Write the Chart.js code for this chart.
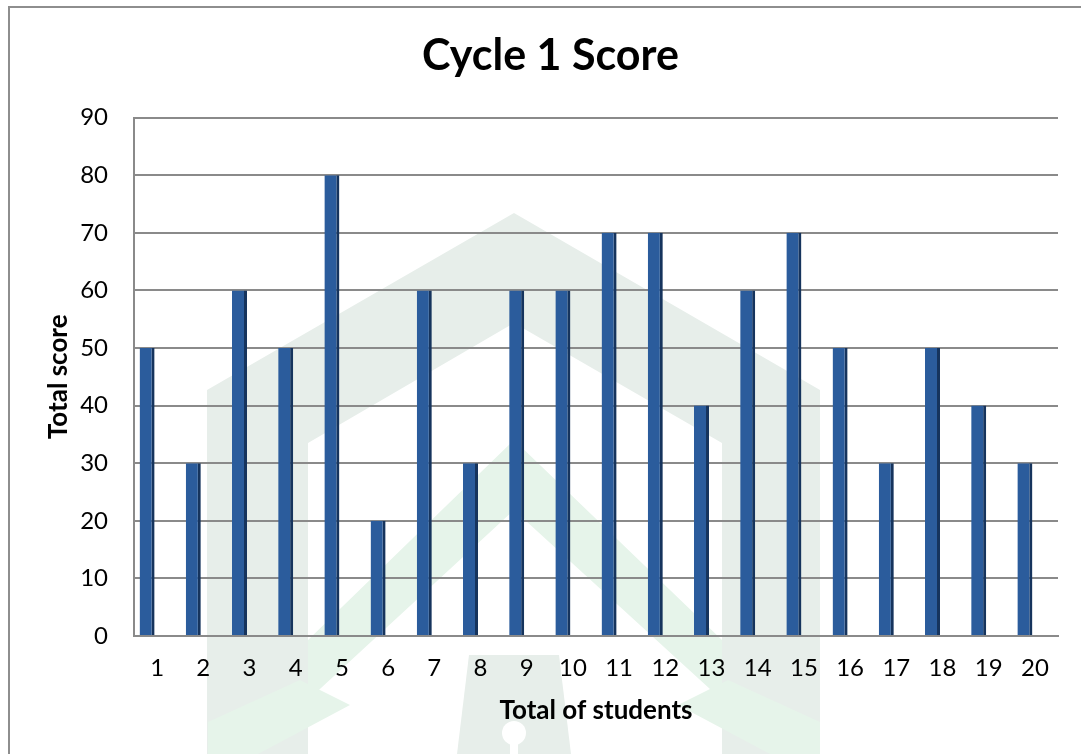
<!DOCTYPE html>
<html>
<head>
<meta charset="utf-8">
<title>Cycle 1 Score</title>
<script src="https://cdn.jsdelivr.net/npm/chart.js@4/dist/chart.umd.min.js"></script>
<style>
  html, body { margin: 0; padding: 0; background: #fff; overflow: hidden; }
  #frame {
    position: absolute; left: 8px; top: 6px; width: 1200px; height: 900px;
    border: 2px solid #8e8e8e; box-sizing: border-box;
  }
  #grafico { position: absolute; left: 0; top: 0; }
</style>
</head>
<body>
<div id="frame"></div>
<canvas id="grafico" width="1081" height="754"></canvas>
<script>
const students = ["1","2","3","4","5","6","7","8","9","10","11","12","13","14","15","16","17","18","19","20"];
const scores = [50, 30, 60, 50, 80, 20, 60, 30, 60, 60, 70, 70, 40, 60, 70, 50, 30, 50, 40, 30];
const yTicks = [0, 10, 20, 30, 40, 50, 60, 70, 80, 90];

const FONT = "Lato, 'Open Sans', sans-serif";

// marca d'agua clara no fundo (so decoracao)
const watermark = {
  id: "watermark",
  beforeDraw(chart) {
    const c = chart.ctx;
    c.save();
    // faixa cinza em forma de casa
    c.fillStyle = "#e7eeea";
    c.beginPath();
    c.moveTo(514, 213); c.lineTo(820, 390); c.lineTo(820, 760); c.lineTo(207, 760); c.lineTo(207, 390); c.closePath();
    c.moveTo(514, 323); c.lineTo(308, 443); c.lineTo(308, 760); c.lineTo(722, 760); c.lineTo(722, 443); c.closePath();
    c.fill("evenodd");
    // chevron verde
    c.fillStyle = "#e6f4ea";
    c.beginPath();
    c.moveTo(514, 440); c.lineTo(722, 640); c.lineTo(722, 700); c.lineTo(514, 510); c.lineTo(308, 700); c.lineTo(308, 640); c.closePath();
    c.fill();
    c.beginPath();
    c.moveTo(208, 722); c.lineTo(300, 680); c.lineTo(350, 705); c.lineTo(258, 754); c.lineTo(208, 754); c.closePath();
    c.moveTo(820, 722); c.lineTo(728, 680); c.lineTo(678, 705); c.lineTo(770, 754); c.lineTo(820, 754); c.closePath();
    c.fill();
    // porta com fechadura
    c.fillStyle = "#e7eeea";
    c.beginPath();
    c.moveTo(469, 655); c.lineTo(559, 655); c.lineTo(571, 754); c.lineTo(457, 754); c.closePath();
    c.fill();
    c.fillStyle = "#fff";
    c.beginPath();
    c.arc(514, 733, 12, 0, Math.PI * 2);
    c.fill();
    c.fillRect(510, 740, 8, 14);
    c.restore();
  }
};

const ctx = document.getElementById("grafico").getContext("2d");
new Chart(ctx, {
  type: "bar",
  data: {
    labels: students,
    datasets: [{
      label: "Total score",
      data: scores,
      backgroundColor: "#2b5c9c",
      borderColor: "#16345d",
      borderWidth: { left: 0, right: 3, top: 0, bottom: 0 },
      borderSkipped: false,
      categoryPercentage: 0.866,
      barPercentage: 0.75
    }, {
      // espaco vazio para deslocar a barra para a esquerda do rotulo
      label: "spacer",
      data: students.map(() => null),
      backgroundColor: "rgba(0,0,0,0)",
      categoryPercentage: 0.866,
      barPercentage: 0.75
    }]
  },
  options: {
    responsive: false,
    animation: false,
    layout: { padding: { left: 43, right: 23, top: 0, bottom: 28 } },
    plugins: {
      legend: { display: false },
      tooltip: { enabled: false },
      title: {
        display: true,
        text: "Cycle 1 Score",
        color: "#000",
        font: { family: FONT, size: 43, weight: "bold" },
        padding: { top: 30, bottom: 36 }
      }
    },
    scales: {
      x: {
        grid: { display: false, drawTicks: false },
        border: { display: true, color: "#8a8a8a", width: 2 },
        ticks: { color: "#000", font: { family: FONT, size: 24 }, padding: 18 },
        title: {
          display: true, text: "Total of students", color: "#000",
          font: { family: FONT, size: 26, weight: "bold" }, padding: 0
        },
        afterFit(scale) { scale.height = 90; }
      },
      y: {
        min: 0, max: 90,
        afterBuildTicks(scale) { scale.ticks = yTicks.map(v => ({ value: v })); },
        grid: { color: "#8a8a8a", lineWidth: 2, drawTicks: false },
        border: { display: true, color: "#8a8a8a", width: 2 },
        ticks: { color: "#000", font: { family: FONT, size: 24 }, padding: 26 },
        title: {
          display: true, text: "Total score", color: "#000",
          font: { family: FONT, size: 26, weight: "bold" }, padding: 0
        },
        afterFit(scale) { scale.width = 91; }
      }
    }
  },
  plugins: [watermark]
});
</script>
</body>
</html>
